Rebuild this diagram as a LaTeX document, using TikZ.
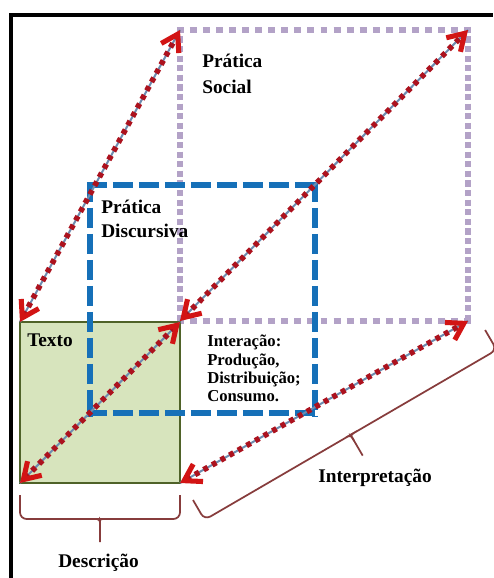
\documentclass[tikz,border=0pt]{standalone}
\usepackage{fontspec}
\setmainfont{Liberation Serif}
\usetikzlibrary{arrows.meta}
\definecolor{purpleC}{RGB}{179,162,199}
\definecolor{blueC}{RGB}{22,112,184}
\definecolor{greenFill}{RGB}{215,228,189}
\definecolor{greenDraw}{RGB}{79,98,40}
\definecolor{redDot}{RGB}{172,18,30}
\definecolor{redTip}{RGB}{210,20,20}
\definecolor{lineBlue}{RGB}{110,140,175}
\definecolor{braceC}{RGB}{135,60,60}
\begin{document}
\begin{tikzpicture}[x=0.75pt,y=-0.75pt,
  lbl/.style={font=\fontsize{14.5}{17}\selectfont\bfseries, anchor=base west, inner sep=0pt},
  small/.style={font=\fontsize{12.5}{15}\selectfont\bfseries, anchor=base west, inner sep=0pt},
  purpleH/.style={draw=purpleC, line width=4.8pt, dash pattern=on 5.2pt off 4.6pt, shorten <=-2.4pt, shorten >=-2.4pt},
  purpleV/.style={draw=purpleC, line width=4.8pt, dash pattern=on 4.6pt off 2.6pt, shorten <=-2.4pt, shorten >=-2.4pt},
  blueS/.style={draw=blueC, line width=4.8pt, dash pattern=on 15pt off 4.5pt, shorten <=-2.4pt, shorten >=-2.4pt},
  greenbox/.style={fill=greenFill, draw=greenDraw, line width=2.2pt},
  arrowline/.style={draw=lineBlue, line width=1.5pt},
  arrowdots/.style={draw=redDot, line width=4.2pt, dash pattern=on 3.6pt off 3.8pt,
    {Straight Barb[length=12pt,width=15pt,line width=3.8pt,color=redTip]}-{Straight Barb[length=12pt,width=15pt,line width=3.8pt,color=redTip]}},
  bracestyle/.style={draw=braceC, line width=1.3pt, rounded corners=5pt},
  frame/.style={draw=black, line width=3pt}
]
\useasboundingbox (0,0) rectangle (493,578);
\fill[white] (0,0) rectangle (493,578);

% frame
\draw[frame] (10.5,578) -- (10.5,14.7) -- (493,14.7);

% corner coordinates
\coordinate (ps-tl) at (180,30);
\coordinate (ps-tr) at (468,30);
\coordinate (ps-br) at (468,321);
\coordinate (ps-bl) at (180,321);
\coordinate (pd-tl) at (90,185);
\coordinate (pd-tr) at (315,185);
\coordinate (pd-br) at (315,413);
\coordinate (pd-bl) at (90,413);
\coordinate (tx-tl) at (20,322);
\coordinate (tx-tr) at (180,322);
\coordinate (tx-br) at (180,483);
\coordinate (tx-bl) at (20,483);

% Pratica Social (purple dotted)
\draw[purpleH] (ps-tl) -- (ps-tr);
\draw[purpleH] (ps-bl) -- (ps-br);
\draw[purpleV] (ps-tl) -- (ps-bl);
\draw[purpleV] (ps-tr) -- (ps-br);

% Texto (green)
\path[greenbox] (tx-tl) rectangle (tx-br);

% Pratica Discursiva (blue dashed)
\draw[blueS] (pd-tl) -- (pd-tr);
\draw[blueS] (pd-bl) -- (pd-br);
\draw[blueS] (pd-tl) -- (pd-bl);
\draw[blueS] (pd-tr) -- (pd-br);

% arrows
\foreach \a/\b in {tx-tl/ps-tl, ps-bl/ps-tr, tx-bl/tx-tr, tx-br/ps-br}{
  \draw[arrowline] (\a) -- (\b);
  \draw[arrowdots] (\a) -- (\b);
}

% Descricao brace
\draw[bracestyle] (20,495) -- (20,519) -- (96,519) .. controls (100,519) and (100,521) .. (100,526) -- (100,542);
\draw[bracestyle] (100,526) .. controls (100,521) and (100,519) .. (104,519) -- (180,519) -- (180,495);

% Interpretacao brace
\begin{scope}[shift={(193,500)}, rotate=30.2]
\draw[bracestyle] (0,0) -- (0,23) -- (165,23) .. controls (169,23) and (169,25) .. (169,30) -- (169,47);
\draw[bracestyle] (169,30) .. controls (169,25) and (169,23) .. (173,23) -- (338,23) -- (338,0);
\end{scope}

% labels
\node[lbl] (ps1) at (202,67) {Prática};
\node[lbl] (ps2) at (202,93) {Social};
\node[lbl] (pd1) at (101,213) {Prática};
\node[lbl] (pd2) at (101,237) {Discursiva};
\node[lbl] (tx) at (27,346) {Texto};
\node[small] (in1) at (207,346) {Interação:};
\node[small] (in2) at (207,365) {Produção,};
\node[small] (in3) at (207,383) {Distribuição;};
\node[small] (in4) at (207,401) {Consumo.};
\node[lbl] (interp) at (318,482) {Interpretação};
\node[lbl] (desc) at (58,567) {Descrição};
\end{tikzpicture}
\end{document}
